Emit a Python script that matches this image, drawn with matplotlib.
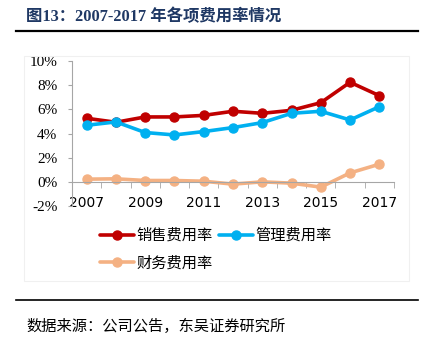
# encoding: utf-8

import numpy as np
import matplotlib
matplotlib.use("Agg")
import matplotlib.pyplot as plt
from matplotlib.lines import Line2D
from matplotlib.patches import Rectangle

years = [2007, 2008, 2009, 2010, 2011, 2012, 2013, 2014, 2015, 2016, 2017]
# 费用率 (%)
sales_rate = [5.26, 4.93, 5.37, 5.37, 5.50, 5.84, 5.67, 5.92, 6.55, 8.24, 7.13]
admin_rate = [4.68, 4.96, 4.08, 3.88, 4.16, 4.49, 4.90, 5.67, 5.84, 5.12, 6.22]
fin_rate = [0.22, 0.25, 0.11, 0.11, 0.05, -0.19, 0.00, -0.11, -0.44, 0.74, 1.46]
series_names = ["销售费用率", "管理费用率", "财务费用率"]
yticks = [-2, 0, 2, 4, 6, 8, 10]

cjk = ["Noto Sans CJK SC", "DejaVu Sans"]
serif = ["Liberation Serif", "Noto Sans CJK SC"]
colors = ["#C00000", "#00B0F0", "#F4B183"]

W, H = 427, 349
fig = plt.figure(figsize=(W / 100.0, H / 100.0), dpi=100)

# title + rules
fig.text(26 / W, 1 - 17 / H, "图13：2007-2017 年各项费用率情况", family=serif,
         fontsize=11.8, fontweight="bold", color="#1F3864", va="center", ha="left")
fig.add_artist(Line2D([16 / W, 418 / W], [1 - 31 / H, 1 - 31 / H], color="black", lw=1.6))
fig.add_artist(Line2D([16 / W, 418 / W], [1 - 300 / H, 1 - 300 / H], color="black", lw=1.2))
fig.add_artist(Rectangle((24 / W, 1 - 281 / H), 385 / W, 225 / H, fill=False,
                         edgecolor="#F0F0F0", lw=0.8))
fig.text(26 / W, 1 - 326 / H, "数据来源：公司公告，东吴证券研究所", family=cjk,
         fontsize=11, color="black", va="center", ha="left")

ax = fig.add_axes([72 / W, 1 - 206 / H, (394 - 72) / W, (206 - 61) / H])
x = np.arange(len(years))
handles = []
for vals, c, name in zip([sales_rate, admin_rate, fin_rate], colors, series_names):
    h, = ax.plot(x, vals, color=c, lw=2.6, marker="o", markersize=6.5,
                 markeredgecolor=c, label=name, solid_capstyle="round")
    handles.append(h)

ax.set_xlim(-0.5, len(years) - 0.5)
ax.set_ylim(-2, 10)
ax.set_yticks(yticks)
ax.set_yticklabels(["%d%%" % v for v in yticks], family=serif, fontsize=11)
ax.set_xticks(x[::2])
ax.set_xticklabels([str(y) for y in years[::2]], family=serif, fontsize=11)
ax.set_xticks(np.arange(-0.5, len(years), 1.0), minor=True)

for s in ["top", "right"]:
    ax.spines[s].set_visible(False)
ax.spines["bottom"].set_position(("data", 0))
ax.spines["bottom"].set_color("#A6A6A6")
ax.spines["left"].set_color("#A6A6A6")
ax.tick_params(axis="y", length=3, color="#A6A6A6", pad=7.5)
ax.tick_params(axis="x", which="major", length=0, pad=10)
ax.tick_params(axis="x", which="minor", length=4, color="#A6A6A6")

# legend fills column-wise, so order handles to get rows: sales, admin / fin
leg_handles = [handles[0], handles[2], handles[1]]
fig.legend(handles=leg_handles, loc="upper left", bbox_to_anchor=(100 / W, 1 - 227 / H),
           ncol=2, frameon=False, borderpad=0, borderaxespad=0,
           handlelength=2.2, handletextpad=0.2, columnspacing=0.4, labelspacing=0.7,
           prop={"family": cjk, "size": 11})

plt.savefig("out.png", dpi=100)
